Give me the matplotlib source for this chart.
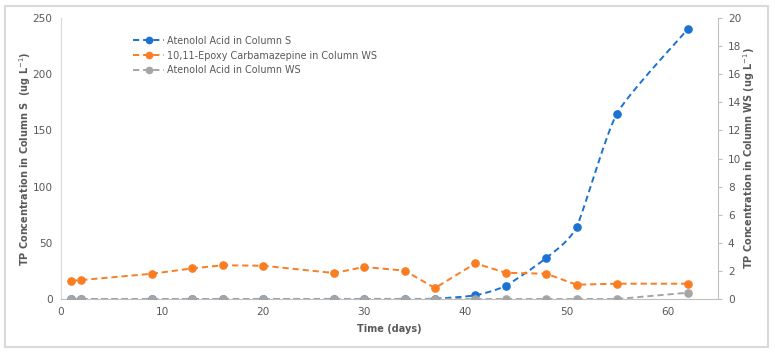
import matplotlib
matplotlib.use('Agg')
import matplotlib.pyplot as plt
import numpy as np
from matplotlib.patches import Rectangle

# sampling days
days = [1, 2, 9, 13, 16, 20, 27, 30, 34, 37, 41, 44, 48, 51, 55, 62]

# left axis (Column S)
atenolol_s = [0, 0, 0, 0, 0, 0, 0, 0, 0, 0.3, 3.3, 11.8, 36.5, 64, 165, 240]
# right axis (Column WS)
epoxy_cbz_ws = [1.30, 1.35, 1.80, 2.18, 2.40, 2.37, 1.85, 2.28, 2.02, 0.78,
                2.54, 1.87, 1.80, 1.02, 1.09, 1.09]
atenolol_ws = [0, 0, 0, 0, 0, 0, 0, 0, 0, 0, 0, 0, 0, 0, 0, 0.45]

left_ticks = [0, 50, 100, 150, 200, 250]
right_ticks = list(range(0, 21, 2))
x_ticks = [0, 10, 20, 30, 40, 50, 60]

c_blue = '#1b72d0'
c_orange = '#fb7d22'
c_gray = '#a5a5a5'
c_text = '#595959'


def smooth(x, y, xr, yr, k=0.1, n=30):
    # excel-like smoothed line (bezier through the points), in pixel-like space
    x = np.asarray(x, float) / xr
    y = np.asarray(y, float) / yr
    px, py = [], []
    for i in range(len(x) - 1):
        x0, y0 = (x[i - 1], y[i - 1]) if i > 0 else (x[i], y[i])
        x3, y3 = (x[i + 2], y[i + 2]) if i + 2 < len(x) else (x[i + 1], y[i + 1])
        x1, y1, x2, y2 = x[i], y[i], x[i + 1], y[i + 1]
        c1x, c1y = x1 + (x2 - x0) * k, y1 + (y2 - y0) * k
        c2x, c2y = x2 - (x3 - x1) * k, y2 - (y3 - y1) * k
        t = np.linspace(0, 1, n)
        bx = (1-t)**3*x1 + 3*(1-t)**2*t*c1x + 3*(1-t)*t**2*c2x + t**3*x2
        by = (1-t)**3*y1 + 3*(1-t)**2*t*c1y + 3*(1-t)*t**2*c2y + t**3*y2
        px.extend(bx)
        py.extend(by)
    return np.array(px) * xr, np.array(py) * yr


plt.rcParams['font.family'] = 'DejaVu Sans'

fig = plt.figure(figsize=(7.75, 3.55), dpi=100)
ax = fig.add_axes([0.0787, 0.1577, 0.8478, 0.7916])
ax2 = ax.twinx()

dash = (0, (3.2, 2.0))
ms = 5.2
sx, sy = smooth(days, atenolol_s, 65 / 657, 250 / 281)
ax.plot(sx, sy, color=c_blue, lw=1.4, ls=dash, zorder=2)
ax.plot(days, atenolol_s, 'o', color=c_blue, ms=ms, zorder=3)
ax2.plot(days, epoxy_cbz_ws, color=c_orange, lw=1.4, ls=dash, marker='o', ms=ms)
ax2.plot(days, atenolol_ws, color=c_gray, lw=1.4, ls=dash, marker='o', ms=ms)

ax.set_zorder(ax2.get_zorder() - 1)
ax.patch.set_visible(True)
ax2.patch.set_visible(False)

ax.set_xlim(0, 65)
ax.set_ylim(0, 250)
ax2.set_ylim(0, 20)
ax.set_xticks(x_ticks)
ax.set_yticks(left_ticks)
ax2.set_yticks(right_ticks)

for a in (ax, ax2):
    for s in a.spines.values():
        s.set_visible(False)
ax.spines['left'].set_visible(True)
ax.spines['left'].set_color('#d9d9d9')
ax.spines['bottom'].set_visible(True)
ax.spines['bottom'].set_color('#bfbfbf')
ax2.spines['right'].set_visible(True)
ax2.spines['right'].set_color('#bfbfbf')

ax.tick_params(axis='both', length=0, labelsize=7.6, labelcolor=c_text, pad=6)
ax2.tick_params(axis='y', length=3, color='#bfbfbf', labelsize=7.6,
                labelcolor=c_text, pad=4)

ax.set_xlabel('Time (days)', fontsize=7, fontweight='bold', color=c_text, labelpad=5)
yl = ax.set_ylabel('TP Concentration in Column S  (ug L$^{-1}$)', fontsize=7,
                   fontweight='bold', color=c_text)
yl.set_va('center')
ax.yaxis.set_label_coords((25 - 61) / 657, 0.5)
yr = ax2.set_ylabel('TP Concentration in Column WS (ug L$^{-1}$)', fontsize=7,
                    fontweight='bold', color=c_text, rotation=90)
yr.set_va('center')
ax2.yaxis.set_label_coords((749 - 61) / 657, 0.5)

h1, = ax.plot([], [], color=c_blue, lw=1.4, ls=dash, marker='o', ms=4.5)
h2, = ax.plot([], [], color=c_orange, lw=1.4, ls=dash, marker='o', ms=4.5)
h3, = ax.plot([], [], color=c_gray, lw=1.4, ls=dash, marker='o', ms=4.5)
leg = fig.legend([h1, h2, h3],
                 ['Atenolol Acid in Column S',
                  '10,11-Epoxy Carbamazepine in Column WS',
                  'Atenolol Acid in Column WS'],
                 loc='upper left', bbox_to_anchor=(128 / 775, 1 - 31 / 355),
                 frameon=False, fontsize=6.9, handlelength=3.3,
                 handletextpad=0.3, labelspacing=0.5, borderpad=0)
for t in leg.get_texts():
    t.set_color(c_text)

fig.patches.append(Rectangle((5 / 775, 1 - 347 / 355), 763 / 775, 341 / 355,
                             transform=fig.transFigure, fill=False,
                             edgecolor='#d9d9d9', lw=1.5))

plt.savefig('out.png', dpi=100)
